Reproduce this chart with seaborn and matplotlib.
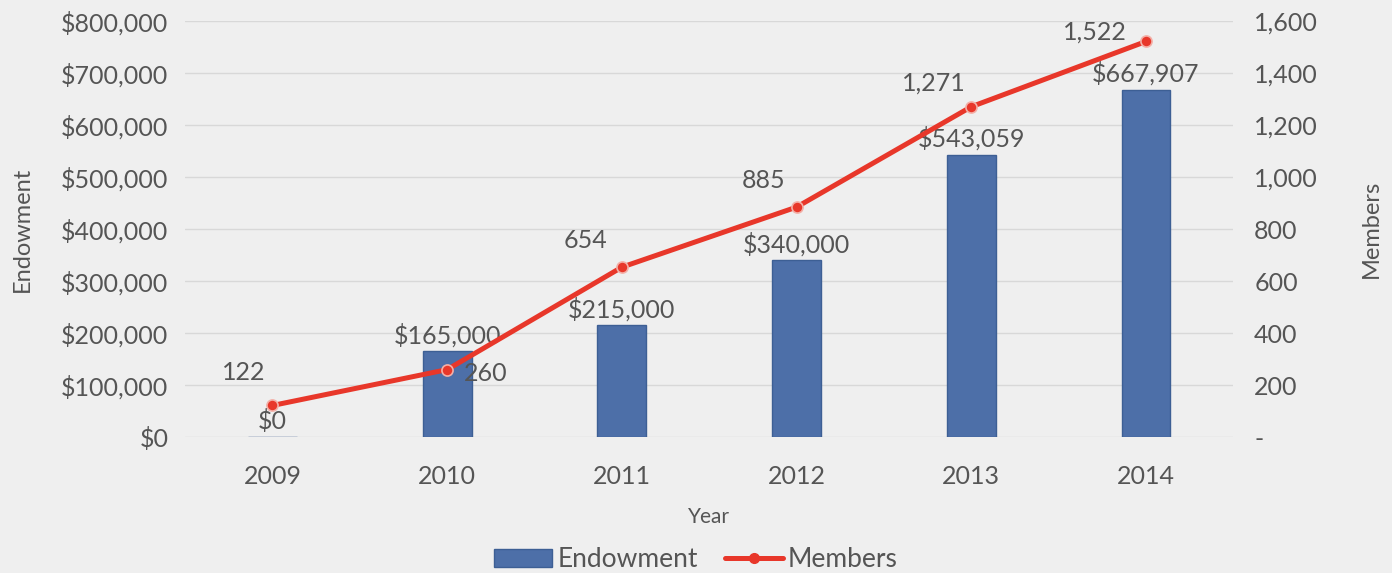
import matplotlib
matplotlib.use('Agg')
import matplotlib.pyplot as plt
import seaborn as sns
import pandas as pd
from matplotlib.ticker import FuncFormatter
from matplotlib.lines import Line2D
from matplotlib.patches import Patch

# Chart data
years = ['2009', '2010', '2011', '2012', '2013', '2014']
endowment = [0, 165000, 215000, 340000, 543059, 667907]
members = [122, 260, 654, 885, 1271, 1522]

df = pd.DataFrame({'Year': years, 'Endowment': endowment, 'Members': members})

sns.set_style('white')
plt.rcParams['font.family'] = ['Lato', 'DejaVu Sans']

bg = '#efefef'
text_col = '#555555'
bar_col = '#4d6fa8'
line_col = '#e8372a'

fig = plt.figure(figsize=(13.92, 5.73), dpi=100, facecolor=bg)
ax = fig.add_axes([0.133, 0.237, 0.753, 0.726], facecolor=bg)

sns.barplot(data=df, x='Year', y='Endowment', color=bar_col, width=0.28,
            edgecolor='#3d5f94', linewidth=1, saturation=1, ax=ax)
ax.set_ylim(0, 800000)
ax.set_yticks(range(0, 800001, 100000))
ax.yaxis.set_major_formatter(FuncFormatter(lambda v, p: f'${v:,.0f}'))
ax.grid(axis='y', color='#d8d8d8', linewidth=1)
ax.set_axisbelow(True)
for s in ax.spines.values():
    s.set_visible(False)
ax.tick_params(axis='both', length=0, labelsize=18, colors=text_col)
ax.tick_params(axis='x', pad=20)
ax.tick_params(axis='y', pad=12)
ax.set_xlabel('Year', fontsize=15, color=text_col, labelpad=14)
ax.set_ylabel('Endowment', fontsize=17, color=text_col)
ax.yaxis.set_label_coords(-0.145, 0.5)

# bar labels
for i, v in enumerate(endowment):
    ax.annotate(f'${v:,.0f}', (i, v), xytext=(0, 3), textcoords='offset points',
                ha='center', va='bottom', fontsize=18, color=text_col)

ax2 = ax.twinx()
sns.lineplot(data=df, x='Year', y='Members', color=line_col, linewidth=3.6,
             marker='o', markersize=8, markeredgecolor='#f3b0a8', markeredgewidth=1.2,
             ax=ax2)
ax2.set_ylim(0, 1600)
ax2.set_yticks(range(0, 1601, 200))
ax2.yaxis.set_major_formatter(FuncFormatter(lambda v, p: '-' if v == 0 else f'{v:,.0f}'))
for s in ax2.spines.values():
    s.set_visible(False)
ax2.tick_params(axis='y', length=0, labelsize=18, colors=text_col, pad=15)
ax2.set_ylabel('Members', fontsize=17, color=text_col)
ax2.yaxis.set_label_coords(1.122, 0.5)
ax2.set_xlabel('')
ax.set_xlim(-0.5, len(years) - 0.5)

offsets = [(-21, 24), (28, -3), (-26, 19), (-24, 19), (-27, 17), (-37, 7)]
for i, (v, off) in enumerate(zip(members, offsets)):
    ax2.annotate(f'{v:,.0f}', (i, v), xytext=off, textcoords='offset points',
                 ha='center', va='center', fontsize=18, color=text_col)

handles = [Patch(facecolor=bar_col, edgecolor='#3d5f94', label='Endowment'),
           Line2D([0], [0], color=line_col, linewidth=3.6, marker='o', markersize=7,
                  label='Members')]
fig.legend(handles=handles, loc='lower center', bbox_to_anchor=(0.5, -0.04), ncol=2,
           frameon=False, fontsize=19, labelcolor=text_col, handlelength=2.2,
           handletextpad=0.2, columnspacing=1.0)

fig.savefig('out.png', dpi=100, facecolor=bg)
